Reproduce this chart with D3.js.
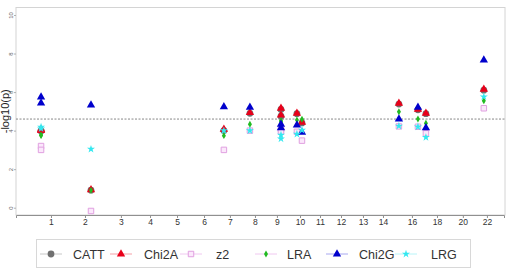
<!DOCTYPE html>
<html>
<head>
<meta charset="utf-8">
<script src="https://cdn.jsdelivr.net/npm/d3@7"></script>
<style>
  body { margin: 0; background: #fff; }
  svg { font-family: "Liberation Sans", Arial, sans-serif; }
</style>
</head>
<body>
<div id="chart"></div>
<script>
// chromosome tick labels and their positions on the cumulative genome axis (Mb)
const chromLabels = ['1', '2', '3', '4', '5', '6', '7', '8', '9', '10', '11', '12', '13', '14', '16', '18', '20', '22'];
const chromTicks = [215, 424, 645, 824, 990, 1156, 1315, 1469, 1604, 1746, 1869, 1998, 2133, 2256, 2434, 2588, 2747, 2895];

// SNP positions (cumulative Mb)
const snpPos = [154, 154, 461, 1278, 1438, 1629, 1629, 1727, 1758, 2354, 2471, 2520, 2876];

// -log10(p) per test
const catt  = [4.00, 3.98, 0.91, 4.00, 4.90, 5.10, 4.75, 4.88, 4.40, 5.38, 5.08, 4.88, 6.10];
const chi2a = [4.05, 4.00, 0.93, 4.07, 4.93, 5.16, 4.80, 4.90, 4.43, 5.42, 5.10, 4.90, 6.14];
const z2    = [3.20, 3.00, -0.17, 3.00, 4.00, 4.05, 3.95, 3.94, 3.48, 4.22, 4.20, 3.86, 5.16];
const lra   = [3.77, 3.75, 0.90, 3.74, 4.33, 4.51, 4.45, 4.55, 4.59, 4.98, 4.60, 4.38, 5.55];
const chi2g = [5.74, 5.43, 5.33, 5.24, 5.21, 4.33, 4.15, 4.29, 3.91, 4.60, 5.21, 4.15, 7.66];
const lrg   = [4.19, 4.10, 3.04, 4.00, 4.00, 3.77, 3.58, 3.82, 4.03, 4.24, 4.20, 3.65, 5.76];

const threshold = 4.6;
const yTicks = [0, 2, 4, 6, 8, 10];

const series = [
  { name: 'CATT',  values: catt,  shape: d3.symbolCircle,   size: 36, fill: '#707070', stroke: 'none', line: '#c8c8c8' },
  { name: 'Chi2A', values: chi2a, shape: d3.symbolTriangle, size: 30, fill: '#e8001a', stroke: 'none', line: '#f5a0a8' },
  { name: 'z2',    values: z2,    shape: d3.symbolSquare,   size: 30, fill: '#fbe8fb', stroke: '#e0a0e0', line: '#f0c8f0' },
  { name: 'LRA',   values: lra,   shape: d3.symbolDiamond,  size: 14, fill: '#22bb22', stroke: 'none', line: '#f0c8f0' },
  { name: 'Chi2G', values: chi2g, shape: d3.symbolTriangle, size: 30, fill: '#0000cc', stroke: 'none', line: '#a8a8f0' },
  { name: 'LRG',   values: lrg,   shape: d3.symbolStar,     size: 20, fill: '#33e8f0', stroke: 'none', line: '#b8f4f8' }
];

const width = 513, height = 270;
const box = { left: 16, right: 505, top: 7.5, bottom: 215 };

const svg = d3.select('#chart').append('svg')
  .attr('width', width)
  .attr('height', height);

const x = d3.scaleLinear().domain([0, 3000]).range([16, 504]);
const y = d3.scaleLinear().domain([0, 10]).range([207.7, 15]);

// plot frame
svg.append('rect')
  .attr('x', box.left).attr('y', box.top)
  .attr('width', box.right - box.left).attr('height', box.bottom - box.top)
  .attr('fill', 'none').attr('stroke', '#d4d4d4').attr('stroke-width', 1);

// x axis
const xAxis = svg.append('g')
  .attr('transform', `translate(0,${box.bottom})`)
  .call(d3.axisBottom(x).tickValues(chromTicks).tickSize(3).tickPadding(1)
    .tickFormat((d, i) => chromLabels[i]));
xAxis.select('.domain').attr('stroke', '#909090');
xAxis.selectAll('.tick line').attr('stroke', '#909090');
xAxis.selectAll('text').attr('font-size', 8.5).attr('fill', '#333');

// y axis, rotated labels
const yAxis = svg.append('g')
  .attr('transform', `translate(${box.left},0)`)
  .call(d3.axisLeft(y).tickValues(yTicks).tickSize(2).tickFormat(d3.format('d')));
yAxis.select('.domain').remove();
yAxis.selectAll('.tick line').attr('stroke', '#b0b0b0');
yAxis.selectAll('text')
  .attr('font-size', 6)
  .attr('fill', '#666')
  .attr('x', 0).attr('dy', 0)
  .attr('text-anchor', 'middle')
  .attr('transform', 'translate(-3.5,0) rotate(-90)');

svg.append('text')
  .attr('transform', `translate(9,${(box.top + box.bottom) / 2}) rotate(-90)`)
  .attr('text-anchor', 'middle')
  .attr('font-size', 11)
  .attr('fill', '#222')
  .text('-log10(p)');

// threshold line
svg.append('line')
  .attr('x1', box.left).attr('x2', box.right)
  .attr('y1', y(threshold)).attr('y2', y(threshold))
  .attr('stroke', '#888').attr('stroke-width', 1)
  .attr('stroke-dasharray', '2,1.5');

// points
series.forEach(s => {
  svg.append('g').selectAll('path')
    .data(s.values)
    .enter().append('path')
    .attr('d', d3.symbol().type(s.shape).size(s.size))
    .attr('transform', (d, i) => `translate(${x(snpPos[i])},${y(d)})`)
    .attr('fill', s.fill)
    .attr('stroke', s.stroke)
    .attr('stroke-width', 1);
});

// legend
const legend = svg.append('g');
legend.append('rect')
  .attr('x', 36.5).attr('y', 239.5).attr('width', 434).attr('height', 28)
  .attr('fill', '#fff').attr('stroke', '#d8d8d8');

const legendX = [40, 110, 180, 255, 326, 395];
const legendTextX = [73, 144, 216, 287, 359, 431];
const ly = 254;
series.forEach((s, i) => {
  const g = legend.append('g');
  g.append('line')
    .attr('x1', legendX[i]).attr('x2', legendX[i] + 22)
    .attr('y1', ly).attr('y2', ly)
    .attr('stroke', s.line).attr('stroke-width', 1);
  g.append('path')
    .attr('d', d3.symbol().type(s.shape).size(s.size))
    .attr('transform', `translate(${legendX[i] + 11},${ly})`)
    .attr('fill', s.fill)
    .attr('stroke', s.stroke);
  g.append('text')
    .attr('x', legendTextX[i]).attr('y', ly + 4.5)
    .attr('font-size', 12.5)
    .attr('fill', '#333')
    .text(s.name);
});
</script>
</body>
</html>
